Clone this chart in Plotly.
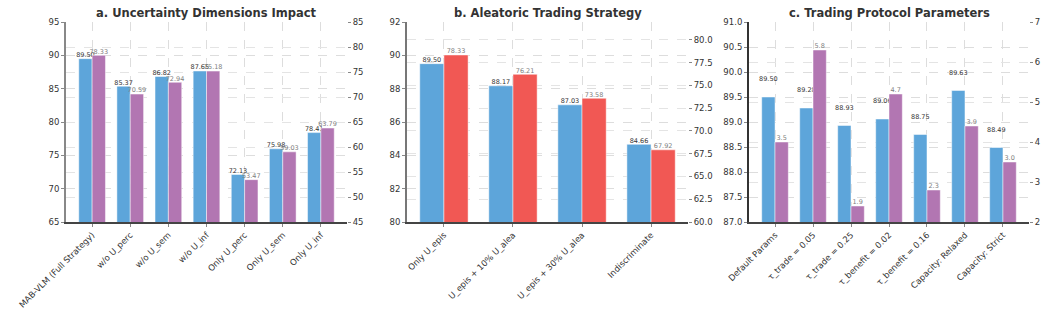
import plotly.graph_objects as go

# ---------------- data ----------------
a_cats = ["MAB-VLM (Full Strategy)", "w/o U_perc", "w/o U_sem", "w/o U_inf",
          "Only U_perc", "Only U_sem", "Only U_inf"]
a_left = [89.50, 85.37, 86.82, 87.65, 72.13, 75.98, 78.41]
a_right = [78.33, 70.59, 72.94, 75.18, 53.47, 59.03, 63.79]

b_cats = ["Only U_epis", "U_epis + 10% U_alea", "U_epis + 30% U_alea", "Indiscriminate"]
b_left = [89.50, 88.17, 87.03, 84.66]
b_right = [78.33, 76.21, 73.58, 67.92]

c_cats = ["Default Params", "τ_trade = 0.05", "τ_trade = 0.25", "τ_benefit = 0.02",
          "τ_benefit = 0.16", "Capacity: Relaxed", "Capacity: Strict"]
c_left = [89.50, 89.28, 88.93, 89.06, 88.75, 89.63, 88.49]
c_right = [3.5, 5.8, 1.9, 4.7, 2.3, 3.9, 3.0]

titles = ["a. Uncertainty Dimensions Impact", "b. Aleatoric Trading Strategy",
          "c. Trading Protocol Parameters"]

BLUE = "#5DA5DA"
PURPLE = "#B276B2"
RED = "#F15854"
FONT = "DejaVu Sans"

panels = [
    dict(cats=a_cats, left=a_left, right=a_right, rcol=PURPLE,
         lrange=[65, 95], ltick=5, lfmt="d", rrange=[45, 85], rtick=5, rfmt="d",
         loff=0.0, roff=0.0, lfmt_lbl="{:.2f}", rfmt_lbl="{:.2f}",
         dom=[66, 347], spine="#888888"),
    dict(cats=b_cats, left=b_left, right=b_right, rcol=RED,
         lrange=[80, 92], ltick=2, lfmt="d", rrange=[60, 81.95], rtick=2.5, rfmt=".1f",
         loff=0.0, roff=0.0, lfmt_lbl="{:.2f}", rfmt_lbl="{:.2f}",
         dom=[407, 688], spine="#777777"),
    dict(cats=c_cats, left=c_left, right=c_right, rcol=PURPLE,
         lrange=[87, 91], ltick=0.5, lfmt=".1f", rrange=[1.5, 6.5], rtick=1, rfmt="d",
         loff=0.28, roff=0.0, lfmt_lbl="{:.2f}", rfmt_lbl="{:.1f}",
         dom=[749, 1029], spine="#333333"),
]

W, H = 1046, 314
ydom = [1 - 222 / H, 1 - 22 / H]

fig = go.Figure()
layout = dict(width=W, height=H, margin=dict(l=0, r=0, t=0, b=0, autoexpand=False),
              paper_bgcolor="white", plot_bgcolor="white", barmode="overlay",
              showlegend=False, font=dict(family=FONT, size=9, color="#333333"))
annotations = []

W_BAR = 0.35
TICKFONT = dict(family=FONT, size=8.5, color="#333333")
for k, p in enumerate(panels):
    n = len(p["cats"])
    xs = list(range(n))
    xa = "x" if k == 0 else f"x{k+1}"
    ylname = f"y{2*k+1}" if k > 0 else "y"
    yrname = f"y{2*k+2}"
    xkey = "xaxis" if k == 0 else f"xaxis{k+1}"
    ylkey = "yaxis" if k == 0 else f"yaxis{2*k+1}"
    yrkey = f"yaxis{2*k+2}"

    fig.add_trace(go.Bar(x=xs, y=p["left"], width=W_BAR, offset=-W_BAR,
                         marker=dict(color=BLUE, line=dict(color="rgba(255,255,255,0.6)", width=0.8)),
                         xaxis=xa, yaxis=ylname))
    fig.add_trace(go.Scatter(x=[i - W_BAR / 2 for i in xs],
                             y=[v + p["loff"] for v in p["left"]],
                             mode="text", text=[p["lfmt_lbl"].format(v) for v in p["left"]],
                             textposition="top center",
                             textfont=dict(family=FONT, size=6.5, color="#333333"),
                             xaxis=xa, yaxis=ylname, cliponaxis=False))
    fig.add_trace(go.Bar(x=xs, y=p["right"], width=W_BAR, offset=0,
                         marker=dict(color=p["rcol"], line=dict(color="rgba(255,255,255,0.6)", width=0.8)),
                         xaxis=xa, yaxis=yrname))
    fig.add_trace(go.Scatter(x=[i + W_BAR / 2 for i in xs],
                             y=[v + p["roff"] for v in p["right"]],
                             mode="text", text=[p["rfmt_lbl"].format(v) for v in p["right"]],
                             textposition="top center",
                             textfont=dict(family=FONT, size=6.5, color="#808080"),
                             xaxis=xa, yaxis=yrname, cliponaxis=False))

    span = (n - 1) + 2 * W_BAR
    m = 0.05 * span
    xdom = [p["dom"][0] / W, p["dom"][1] / W]
    layout[xkey] = dict(domain=xdom, anchor=ylname, range=[-W_BAR - m, n - 1 + W_BAR + m],
                        tickvals=xs, ticktext=p["cats"], tickangle=-45, automargin=False,
                        showgrid=True, gridcolor="#dddddd", griddash="dash", gridwidth=0.8,
                        showline=True, linecolor="#444444", linewidth=1.5,
                        ticks="outside", ticklen=3, tickcolor="#888888",
                        tickfont=TICKFONT, zeroline=False)
    layout[ylkey] = dict(domain=ydom, anchor=xa, range=p["lrange"], dtick=p["ltick"],
                         tick0=p["lrange"][0], tickformat=p["lfmt"], automargin=False,
                         showgrid=True, gridcolor="#dddddd", griddash="dash", gridwidth=0.8,
                         showline=True, linecolor=p["spine"], linewidth=2,
                         ticks="outside", ticklen=3, tickcolor="#888888",
                         tickfont=TICKFONT, zeroline=False)
    layout[yrkey] = dict(domain=ydom, anchor=xa, overlaying=ylname, side="right",
                         range=p["rrange"], dtick=p["rtick"], tick0=p["rrange"][0],
                         tickformat=p["rfmt"], automargin=False,
                         showgrid=True, gridcolor="#e4e4e4", griddash="dash", gridwidth=0.8,
                         showline=False, ticks="outside", ticklen=3, tickcolor="#888888",
                         tickfont=TICKFONT, zeroline=False)
    annotations.append(dict(text=f"<b>{titles[k]}</b>", xref="paper", yref="paper",
                            x=(xdom[0] + xdom[1]) / 2, y=1 - 13 / H, xanchor="center",
                            yanchor="middle", showarrow=False,
                            font=dict(family=FONT, size=11.5, color="#333333")))

layout["annotations"] = annotations
fig.update_layout(**layout)
fig.write_html("out.html")
